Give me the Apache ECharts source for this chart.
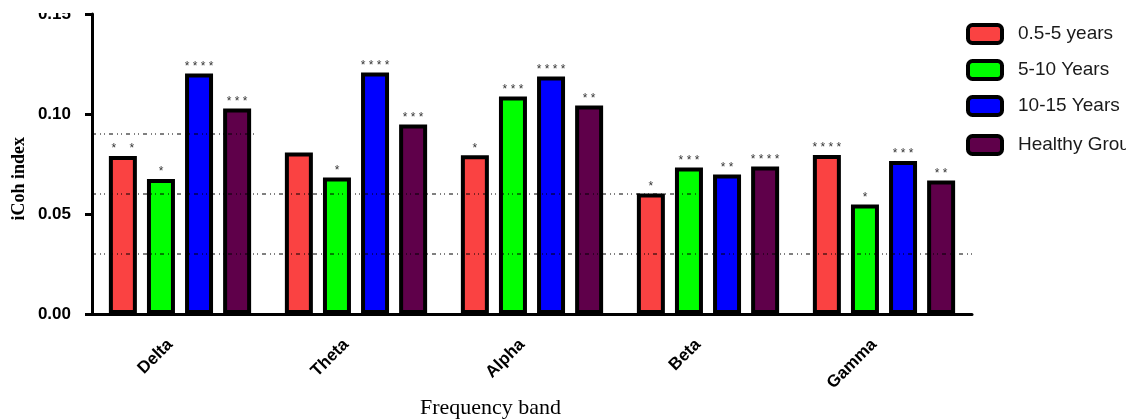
<!DOCTYPE html>
<html>
<head>
<meta charset="utf-8">
<script src="https://cdn.jsdelivr.net/npm/echarts@6/dist/echarts.min.js"></script>
<style>html,body{margin:0;padding:0;background:#fff;}#chart{width:1126px;height:419px;}</style>
</head>
<body>
<div id="chart"></div>
<script>
var categories = ['Delta', 'Theta', 'Alpha', 'Beta', 'Gamma'];
var seriesNames = ['0.5-5 years', '5-10 Years', '10-15 Years', 'Healthy Group'];
var values05to5 = [0.079, 0.0808, 0.0794, 0.0603, 0.0795];
var values5to10 = [0.0675, 0.0683, 0.1087, 0.0732, 0.0547];
var values10to15 = [0.1203, 0.1207, 0.1188, 0.0698, 0.0765];
var valuesHealthy = [0.1028, 0.0947, 0.1042, 0.0738, 0.0667];
var sig05to5 = ['*    *', '', '*', '*', '* * * *'];
var sig5to10 = ['*', '*', '* * *', '* * *', '*'];
var sig10to15 = ['* * * *', '* * * *', '* * * *', '* *', '* * *'];
var sigHealthy = ['* * *', '* * *', '* *', '* * * *', '* *'];
var yTicks = [0, 0.05, 0.10, 0.15];
// reference lines: [value, extent in category units from axis start]
var refLines = [[0.09, 0.93], [0.06, 3.44], [0.03, 5]];

var colors = ['#FA4242', '#00FF00', '#0000FF', '#5F004A'];
var allValues = [values05to5, values5to10, values10to15, valuesHealthy];
var allSig = [sig05to5, sig5to10, sig10to15, sigHealthy];

var chart = echarts.init(document.getElementById('chart'));
var series = [];
seriesNames.forEach(function (name, i) {
  series.push({
    name: name,
    type: 'bar',
    barWidth: 28,
    barGap: '36%',
    data: allValues[i],
    itemStyle: { color: colors[i], borderColor: '#000', borderWidth: 4 },
    label: {
      show: true,
      position: 'top',
      distance: 1,
      fontSize: 12,
      color: '#333',
      fontFamily: 'Liberation Sans, Arial',
      formatter: function (p) { return allSig[i][p.dataIndex]; }
    },
    z: 2
  });
});
refLines.forEach(function (r) {
  series.push({
    type: 'line',
    xAxisIndex: 1,
    data: [[0, r[0]], [r[1], r[0]]],
    symbol: 'none',
    silent: true,
    lineStyle: { color: '#000', width: 1, type: [4, 4, 1, 3, 1, 4] },
    z: 5
  });
});

var legendText = { fontSize: 19, lineHeight: 20, color: '#1a1a1a', fontFamily: 'Liberation Sans, Arial', padding: [0, 0, 0, 11] };

chart.setOption({
  animation: false,
  backgroundColor: '#fff',
  grid: { left: 92, right: 154, top: 14, bottom: 105 },
  legend: [
    {
      data: seriesNames.slice(0, 3),
      orient: 'vertical', left: 966, top: 23, padding: 0,
      itemWidth: 34, itemHeight: 18, itemGap: 14,
      itemStyle: { borderColor: '#000', borderWidth: 4 },
      textStyle: legendText
    },
    {
      data: seriesNames.slice(3),
      orient: 'vertical', left: 966, top: 134, padding: 0,
      itemWidth: 34, itemHeight: 18,
      itemStyle: { borderColor: '#000', borderWidth: 4 },
      textStyle: legendText
    }
  ],
  xAxis: [
    {
      type: 'category',
      data: categories,
      axisLine: { lineStyle: { color: '#000', width: 3 } },
      axisTick: { alignWithLabel: true, length: 8, lineStyle: { color: '#000', width: 2 } },
      axisLabel: {
        rotate: 45, margin: 18, fontSize: 17, fontWeight: 'bold', padding: [0, 14, 0, 0],
        color: '#000', fontFamily: 'Liberation Sans, Arial'
      }
    },
    { type: 'value', min: 0, max: 5, show: false }
  ],
  yAxis: {
    type: 'value',
    min: 0, max: 0.15, interval: 0.05,
    axisLine: { show: true, lineStyle: { color: '#000', width: 3 } },
    axisTick: { show: true, length: 7, lineStyle: { color: '#000', width: 3 } },
    splitLine: { show: false },
    axisLabel: {
      margin: 21, fontSize: 17, fontWeight: 'bold', color: '#000', fontFamily: 'Liberation Sans, Arial',
      formatter: function (v) {
        for (var k = 0; k < yTicks.length; k++) { if (Math.abs(yTicks[k] - v) < 1e-9) return yTicks[k].toFixed(2); }
        return '';
      }
    }
  },
  graphic: [
    {
      type: 'text', left: 10, top: 137, rotation: Math.PI / 2,
      style: { text: 'iCoh index', font: 'bold 18px "Liberation Serif", "Times New Roman", serif', fill: '#000' }
    },
    {
      type: 'text', left: 420, top: 397,
      style: { text: 'Frequency band', font: '22px "Liberation Serif", "Times New Roman", serif', fill: '#000' }
    },
    {
      type: 'rect', left: 0, top: 0, z: 100,
      shape: { width: 88, height: 13 },
      style: { fill: '#fff' }
    }
  ],
  series: series
});
</script>
</body>
</html>
